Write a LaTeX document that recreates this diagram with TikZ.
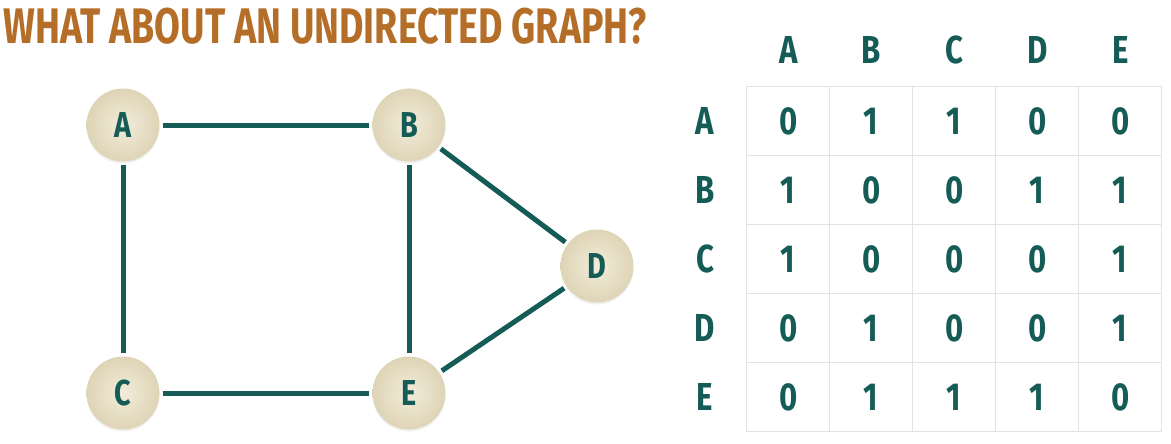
\documentclass[tikz,border=0pt]{standalone}
\usepackage{fontspec}
\setmainfont{Fira Sans}
\newfontfamily\handfont[FakeStretch=0.8]{Fira Sans}
\newfontfamily\titlefont[FakeStretch=0.75]{Fira Sans}
\usepackage[dvipsnames]{xcolor}
\usepackage{tikz}
\usetikzlibrary{shadows}
\definecolor{edgegreen}{RGB}{22,92,86}
\definecolor{titlebrown}{RGB}{180,110,40}
\definecolor{vertexlight}{RGB}{242,236,218}
\definecolor{vertexdark}{RGB}{222,212,182}
\definecolor{gridgray}{RGB}{226,226,226}
\tikzset{
    vertex/.style={
            circle,
            minimum size=73pt,
            inner color=vertexlight,
            outer color=vertexdark,
            drop shadow={opacity=0.12, shadow xshift=0pt, shadow yshift=-2pt},
            text=edgegreen,
            font=\handfont\bfseries\fontsize{36}{36}\selectfont
        },
    edge/.style={
            edgegreen,
            line width=5pt,
            shorten <=3pt,
            shorten >=3pt
        },
    cell/.style={
            draw=gridgray,
            line width=1pt,
            minimum width=83pt,
            minimum height=69pt,
            text=edgegreen,
            font=\handfont\bfseries\fontsize{39}{39}\selectfont
        },
    heading/.style={
            text=edgegreen,
            font=\handfont\bfseries\fontsize{39}{39}\selectfont
        }
}

\begin{document}
\begin{tikzpicture}[x=1pt, y=-1pt]
        \useasboundingbox (0,0) rectangle (1171,444);

        \node[anchor=west, text=titlebrown, font=\titlefont\bfseries\fontsize{50}{50}\selectfont] (title) at (0,26) {WHAT ABOUT AN UNDIRECTED GRAPH?};

        \node[vertex] (A) at (123,125) {A};
        \node[vertex] (B) at (409,125) {B};
        \node[vertex] (C) at (123,393) {C};
        \node[vertex] (D) at (597,266) {D};
        \node[vertex] (E) at (409,393) {E};

        \draw[edge] (A) -- (B);
        \draw[edge] (A) -- (C);
        \draw[edge] (B) -- (E);
        \draw[edge] (B) -- (D);
        \draw[edge] (D) -- (E);
        \draw[edge] (C) -- (E);

        % adjacency matrix
        \foreach \name [count=\i] in {A,B,C,D,E} {
                \node[heading] (col-\name) at ({746.7+83*(\i-0.5)},50) {\name};
                \node[heading] (row-\name) at (705,{86.7+69*(\i-0.5)}) {\name};
            }
        \foreach \entries [count=\r] in {{0,1,1,0,0},{1,0,0,1,1},{1,0,0,0,1},{0,1,0,0,1},{0,1,1,1,0}} {
                \foreach \val [count=\c] in \entries {
                        \node[cell] (m-\r-\c) at ({746.7+83*(\c-0.5)},{86.7+69*(\r-0.5)}) {\val};
                    }
            }

    \end{tikzpicture}
\end{document}
